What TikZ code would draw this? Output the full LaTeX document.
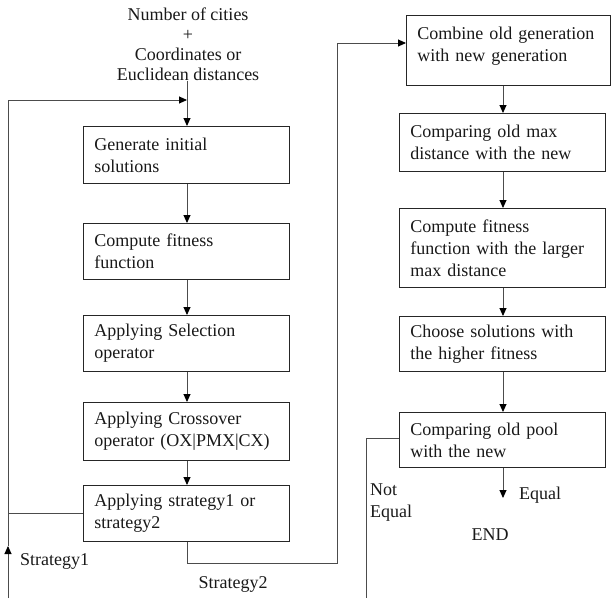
\documentclass[tikz,border=0pt]{standalone}
\usepackage{fontspec}
\setmainfont{Liberation Serif}
\usetikzlibrary{arrows.meta}
\begin{document}
\begin{tikzpicture}[x=1pt,y=-1pt,
  every node/.style={font=\fontsize{18}{22}\selectfont, text=black!90},
  box/.style={draw=black!85, line width=0.9pt, text width=184pt, inner xsep=11pt, inner ysep=0pt, align=left, anchor=north west},
  conn/.style={draw=black!70, line width=0.9pt},
  arr/.style={conn, -{Triangle[length=8pt,width=7pt,color=black]}},
  lbl/.style={inner sep=0pt, align=left}]
\useasboundingbox (0,0) rectangle (611,598);

% input text
\node[lbl, align=center, font=\fontsize{18}{20}\selectfont] (input) at (188,44) {Number of cities\\+\\Coordinates or\\Euclidean distances};

% left column
\node[box, minimum height=57pt] (B1) at (83,126) {Generate initial\\solutions};
\node[box, minimum height=56pt] (B2) at (83,223) {Compute fitness\\function};
\node[box, minimum height=56pt] (B3) at (83,315) {Applying Selection\\operator};
\node[box, minimum height=58pt] (B4) at (83,402) {Applying Crossover\\operator (OX|PMX|CX)};
\node[box, minimum height=56pt] (B5) at (83,485) {Applying strategy1 or\\strategy2};

% right column
\node[box, text width=182pt, minimum height=70pt] (R1) at (406,15) {Combine old generation\\with new generation\\[-10pt]\mbox{}};
\node[box, minimum height=58pt] (R2) at (399,113) {Comparing old max\\distance with the new};
\node[box, minimum height=79pt] (R3) at (399,208) {Compute fitness\\function with the larger\\max distance};
\node[box, minimum height=55pt] (R4) at (399,316) {Choose solutions with\\the higher fitness};
\node[box, minimum height=55pt] (R5) at (399,412) {Comparing old pool\\with the new};

% labels
\node[lbl, anchor=west] (s1) at (20,561) {Strategy1};
\node[lbl] (s2) at (233,584) {Strategy2};
\node[lbl, anchor=north west] (ne) at (370,484) {Not\\Equal};
\node[lbl, anchor=west] (eq) at (519,495) {Equal};
\node[lbl] (fin) at (490,535) {END};

% helper coordinates
\coordinate (cl) at (187,0);
\coordinate (cr) at (503,0);
\coordinate (fbbot) at (8,598);
\coordinate (fbtip) at (8,546);
\coordinate (fbtop) at (8,100);
\coordinate (fbend) at (187,100);
\coordinate (fbjoin) at (8,513);
\coordinate (s2a) at (187,563);
\coordinate (s2b) at (337,563);
\coordinate (s2c) at (337,43);
\coordinate (nea) at (366,438);
\coordinate (neb) at (366,598);
\coordinate (eqend) at (503,498);

% left column arrows
\draw[arr] (input.south -| cl) -- (B1.north -| cl);
\draw[arr] (B1.south -| cl) -- (B2.north -| cl);
\draw[arr] (B2.south -| cl) -- (B3.north -| cl);
\draw[arr] (B3.south -| cl) -- (B4.north -| cl);
\draw[arr] (B4.south -| cl) -- (B5.north -| cl);

% feedback (Strategy1)
\draw[conn] (B5.west) -- (B5.west -| fbjoin);
\draw[arr] (fbbot) -- (fbtip);
\draw[arr] (fbtip) -- (fbtop) -- (fbend);

% Strategy2
\draw[arr] (B5.south -| cl) -- (s2a) -- (s2b) -- (s2c) -- (R1.west |- s2c);

% right column arrows
\draw[arr] (R1.south -| cr) -- (R2.north -| cr);
\draw[arr] (R2.south -| cr) -- (R3.north -| cr);
\draw[arr] (R3.south -| cr) -- (R4.north -| cr);
\draw[arr] (R4.south -| cr) -- (R5.north -| cr);
\draw[arr] (R5.south -| cr) -- (eqend);

% not equal
\draw[conn] (R5.west |- nea) -- (nea) -- (neb);
\end{tikzpicture}
\end{document}
